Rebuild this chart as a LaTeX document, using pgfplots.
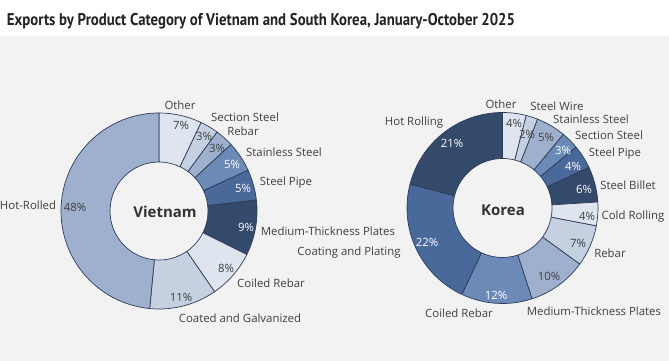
\documentclass[border=0pt]{standalone}
\usepackage{graphicx}
\usepackage{pgfplots}
\usepackage{pgfplotstable}
\pgfplotsset{compat=1.18}
\usetikzlibrary{calc}
\usepackage{fontspec}
\setmainfont{Open Sans}
\newfontfamily\titlefont{PT Sans}
\definecolor{bg}{HTML}{F2F2F2}
\definecolor{c1}{HTML}{DFE5EF}
\definecolor{c2}{HTML}{C5D0E1}
\definecolor{c3}{HTML}{9EB0CD}
\definecolor{c4}{HTML}{6C8AB8}
\definecolor{c5}{HTML}{4A699B}
\definecolor{c6}{HTML}{344A6B}
\definecolor{edge}{HTML}{2E3D57}
\definecolor{dk}{HTML}{404040}
\definecolor{titlec}{HTML}{222222}
\newcommand\lbl{\fontsize{11.4}{13}\selectfont}

% name, value, colour, text colour of %, name x/y, % x/y (pixel positions, y down)
\pgfplotstableread[col sep=comma]{
name,value,col,tc,lx,ly,px,py
Other,7,c1,dk,180,105,181,125
Section Steel,3,c2,dk,245,117,204,136
Rebar,3,c3,dk,243,131,217,148
Stainless Steel,5,c4,white,284,152,232,164
Steel Pipe,5,c5,white,286,183,243,188
Medium-Thickness Plates,9,c6,white,328,231,246,227
Coiled Rebar,8,c1,dk,271,283,226,268
Coated and Galvanized,11,c2,dk,240,318,181,297
Hot-Rolled,48,c3,dk,28,205,75,207
}\vietnam

\pgfplotstableread[col sep=comma]{
name,value,col,tc,lx,ly,px,py
Other,4,c1,dk,501,104,514,123
Steel Wire,2,c2,dk,557,106,527,134
Stainless Steel,5,c3,dk,591,119,546,137
Section Steel,3,c4,white,609,135,563,150
Steel Pipe,4,c5,white,615,154,573,166
Steel Billet,6,c6,white,628,185,584,189
Cold Rolling,4,c1,dk,633,217,587,216
Rebar,7,c2,dk,610,253,578,243
Medium-Thickness Plates,10,c3,dk,594,311,549,276
Coiled Rebar,12,c4,white,459,313,496,295
Coating and Plating,22,c5,white,349,253,427,242
Hot Rolling,21,c6,white,414,123,452,143
}\korea

% #1 table, #2 cx, #3 cy (axis units, y up), #4 outer r, #5 inner r
\newcommand\donut[5]{%
  \pgfplotstablegetrowsof{#1}%
  \pgfmathtruncatemacro\last{\pgfplotsretval-1}%
  \def\tot{0}%
  \pgfplotsforeachungrouped \i in {0,...,\last}{%
    \pgfplotstablegetelem{\i}{value}\of{#1}%
    \pgfmathsetmacro\tot{\tot+\pgfplotsretval}}%
  \def\cum{0}%
  \pgfplotsforeachungrouped \i in {0,...,\last}{%
    \pgfplotstablegetelem{\i}{value}\of{#1}\let\sv\pgfplotsretval
    \pgfplotstablegetelem{\i}{col}\of{#1}\let\col\pgfplotsretval
    \pgfmathsetmacro\angA{90-360*(\cum/\tot)}%
    \pgfmathsetmacro\cum{\cum+\sv}%
    \pgfmathsetmacro\angB{90-360*(\cum/\tot)}%
    \edef\temp{\noexpand\filldraw[fill=\col, draw=edge, line width=0.7pt, line join=round]
      ($(axis cs:#2,#3)+(\angA:#4pt)$) arc[start angle=\angA, end angle=\angB, radius=#4pt]
      -- ($(axis cs:#2,#3)+(\angB:#5pt)$) arc[start angle=\angB, end angle=\angA, radius=#5pt] -- cycle;}%
    \temp
  }%
  \pgfplotsforeachungrouped \i in {0,...,\last}{%
    \pgfplotstablegetelem{\i}{value}\of{#1}\let\sv\pgfplotsretval
    \pgfplotstablegetelem{\i}{name}\of{#1}\let\nm\pgfplotsretval
    \pgfplotstablegetelem{\i}{tc}\of{#1}\let\tcol\pgfplotsretval
    \pgfplotstablegetelem{\i}{lx}\of{#1}\let\lx\pgfplotsretval
    \pgfplotstablegetelem{\i}{ly}\of{#1}\pgfmathsetmacro\ly{361-\pgfplotsretval}%
    \pgfplotstablegetelem{\i}{px}\of{#1}\let\px\pgfplotsretval
    \pgfplotstablegetelem{\i}{py}\of{#1}\pgfmathsetmacro\py{361-\pgfplotsretval}%
    \edef\temp{\noexpand\node[text=dk, font=\noexpand\lbl, inner sep=0pt] at (axis cs:\lx,\ly) {\nm};
      \noexpand\node[text=\tcol, font=\noexpand\lbl, inner sep=0pt] at (axis cs:\px,\py) {\sv\noexpand\%};}%
    \temp
  }%
}

\begin{document}
\begin{tikzpicture}
\fill[bg] (0pt,0pt) rectangle (669pt,361pt);
\fill[white] (0pt,325pt) rectangle (669pt,361pt);
\begin{axis}[at={(0pt,0pt)}, anchor=south west, x=1pt, y=1pt,
  xmin=0, xmax=669, ymin=0, ymax=361, hide axis, clip=false]
\donut{\vietnam}{159}{150}{98}{49}
\donut{\korea}{502.5}{153}{95.5}{49.5}
\node[font=\bfseries\fontsize{15}{17}\selectfont, text=dk!80!black] at (axis cs:165,149) {Vietnam};
\node[font=\bfseries\fontsize{15}{17}\selectfont, text=dk!80!black] at (axis cs:503,151) {Korea};
\end{axis}
\node[font=\titlefont\bfseries\fontsize{17}{19}\selectfont, text=titlec, inner sep=0pt]
  at (261pt,340pt) {\resizebox{508pt}{\height}{Exports by Product Category of Vietnam and South Korea, January-October 2025}};
\pgfresetboundingbox
\path (0pt,0pt) rectangle (669pt,361pt);
\end{tikzpicture}
\end{document}
